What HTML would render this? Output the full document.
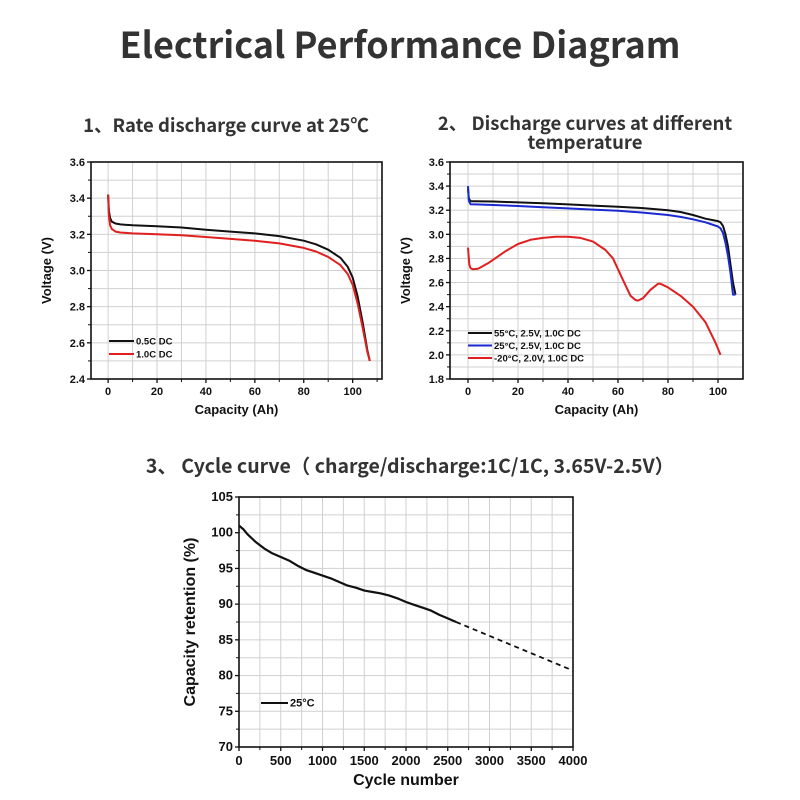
<!DOCTYPE html>
<html><head><meta charset="utf-8">
<style>
html,body{margin:0;padding:0;background:#fff;}
body{width:800px;height:800px;overflow:hidden;position:relative;font-family:"Liberation Sans",Arial,sans-serif;}
.h{position:absolute;font-family:"Noto Sans CJK SC","Liberation Sans",sans-serif;font-weight:bold;color:#333;text-align:center;white-space:nowrap;}
svg{position:absolute;left:0;top:0;}
svg text{font-family:"Liberation Sans",Arial,sans-serif;font-weight:bold;fill:#111;}
</style></head>
<body>
<div class="h" style="left:0;width:800px;top:18px;font-size:36px;line-height:50px;">Electrical Performance Diagram</div>
<div class="h" style="left:76px;width:300px;top:113px;font-size:18.5px;line-height:24px;">1、Rate discharge curve at 25℃</div>
<div class="h" style="left:430px;width:310px;top:114px;font-size:18.5px;line-height:19px;">2、 Discharge curves at different<br>temperature</div>
<div class="h" style="left:110px;width:600px;top:452px;font-size:19.5px;line-height:26px;">3、 Cycle curve（ charge/discharge:1C/1C, 3.65V-2.5V）</div>
<svg id="s" width="800" height="800"></svg>
<script>
// ---- Chart 1 data ----
const c1Cap = [0,0.3,0.8,1.5,3,5,10,20,30,40,50,60,70,80,85,90,95,98,100,102,104,105,106,107];
const c1V05 = [3.42,3.33,3.29,3.27,3.26,3.255,3.25,3.245,3.238,3.225,3.215,3.205,3.19,3.165,3.145,3.115,3.07,3.02,2.96,2.86,2.72,2.64,2.56,2.5];
const c1V10 = [3.42,3.30,3.25,3.23,3.215,3.21,3.205,3.2,3.195,3.185,3.175,3.165,3.15,3.125,3.105,3.075,3.03,2.98,2.92,2.82,2.69,2.62,2.55,2.5];
// ---- Chart 2 data ----
const c2CapA = [0,0.3,1,3,10,20,30,40,50,60,70,80,85,90,95,100,101,102,103,104,105,106,107];
const c2V55 = [3.38,3.3,3.275,3.275,3.272,3.265,3.258,3.248,3.238,3.228,3.218,3.2,3.185,3.16,3.13,3.11,3.1,3.07,3.0,2.9,2.75,2.6,2.5];
const c2V25 = [3.4,3.28,3.25,3.248,3.243,3.235,3.225,3.215,3.205,3.195,3.18,3.16,3.145,3.125,3.1,3.065,3.05,3.01,2.93,2.82,2.68,2.5,2.5];
const c2CapB = [0,0.5,1,2,4,8,15,20,25,30,35,40,45,50,55,58,62,65,67,68,70,73,76,77,80,85,90,95,99,101];
const c2Vm20 = [2.89,2.75,2.72,2.71,2.715,2.76,2.86,2.92,2.955,2.97,2.98,2.98,2.97,2.94,2.87,2.8,2.62,2.49,2.455,2.45,2.47,2.54,2.59,2.59,2.56,2.49,2.4,2.27,2.1,2.0];
// ---- Chart 3 data ----
const c3Cyc = [0,50,100,200,300,400,500,600,700,800,900,1000,1100,1200,1300,1400,1500,1600,1700,1800,1900,2000,2100,2200,2300,2400,2500,2600];
const c3Ret = [101,100.5,99.8,98.7,97.8,97.1,96.6,96.1,95.4,94.8,94.4,94.0,93.6,93.1,92.6,92.3,91.9,91.7,91.5,91.2,90.8,90.3,89.9,89.5,89.1,88.5,88.0,87.5];
const c3ExtCyc = [2600,4000];
const c3ExtRet = [87.5,80.7];

const S = document.getElementById('s');
const NS='http://www.w3.org/2000/svg';
function el(t,a,p){const e=document.createElementNS(NS,t);for(const k in a)e.setAttribute(k,a[k]);(p||S).appendChild(e);return e;}
function txt(x,y,s,sz,anchor,p){const e=el('text',{x:x,y:y,'font-size':sz,'text-anchor':anchor||'middle'},p);e.textContent=s;return e;}

function chart(o){
  const g=el('g',{});
  
  
  const sx=v=>o.L+(v-o.x0)/(o.x1-o.x0)*(o.R-o.L);
  const sy=v=>o.B-(v-o.y0)/(o.y1-o.y0)*(o.B-o.T);
  for(let v=o.x0g;v<=o.x1+1e-9;v+=o.gx){const x=sx(v);if(x>o.L+1&&x<o.R-1)el('line',{x1:x,x2:x,y1:o.T,y2:o.B,stroke:'#d0d0d0','stroke-width':1},g);}
  for(let v=o.y0;v<=o.y1+1e-9;v+=o.gy){const y=sy(v);if(y>o.T+1&&y<o.B-1)el('line',{x1:o.L,x2:o.R,y1:y,y2:y,stroke:'#d0d0d0','stroke-width':1},g);}
  o.xt.forEach(v=>{const x=sx(v);el('line',{x1:x,x2:x,y1:o.B,y2:o.B+4,stroke:'#111','stroke-width':1.3},g);const t=txt(x,o.B+o.fs+5,o.xf(v),o.fs,'middle',g);});
  o.yt.forEach(v=>{const y=sy(v);el('line',{x1:o.L-4,x2:o.L,y1:y,y2:y,stroke:'#111','stroke-width':1.3},g);const t=txt(o.L-6,y+4,o.yf(v),o.fs,'end',g);});
  o.ym.forEach(v=>{const y=sy(v);el('line',{x1:o.L-3,x2:o.L,y1:y,y2:y,stroke:'#111','stroke-width':1},g);});
  o.xm.forEach(v=>{const x=sx(v);el('line',{x1:x,x2:x,y1:o.B,y2:o.B+3,stroke:'#111','stroke-width':1},g);});
  el('rect',{x:o.L,y:o.T,width:o.R-o.L,height:o.B-o.T,fill:'none',stroke:'#111','stroke-width':1.6},g);
  const xl=txt((o.L+o.R)/2,o.B+o.xlo,o.xl,o.lfs,'middle',g);
  const yx=o.L-o.ylo, yy=(o.T+o.B)/2;
  const yl=txt(yx,yy,o.yl,o.lfs,'middle',g);yl.setAttribute('transform','rotate(-90 '+yx+' '+yy+')');
  
  o.series.forEach(s=>{
    const d=s.x.map((v,i)=>(i?'L':'M')+sx(v).toFixed(1)+','+sy(s.y[i]).toFixed(1)).join('');
    const p=el('path',{d:d,fill:'none',stroke:s.c,'stroke-width':s.w||2,'stroke-dasharray':s.dash||'none','stroke-linejoin':'round'},g);
    
  });
  o.legend.forEach((l,i)=>{
    const y=o.lgy+i*o.lgd;
    el('line',{x1:o.lgx,x2:o.lgx+o.lgw,y1:y,y2:y,stroke:l.c,'stroke-width':2},g);
    const t=txt(o.lgx+o.lgw+2,y+3.5,l.t,o.lgfs,'start',g);
    
  });
}
const r=(a,b,s)=>{const o=[];for(let v=a;v<=b+1e-9;v+=s)o.push(+v.toFixed(3));return o;};

chart({name:'chart1-rate-discharge',L:91,R:382,T:162,B:379,x0:-7,x1:112,y0:2.4,y1:3.6,x0g:0,gx:10,gy:0.1,
  xt:[0,20,40,60,80,100],xm:[10,30,50,70,90,110],yt:r(2.4,3.6,0.2),ym:r(2.5,3.5,0.2),
  xf:v=>v,yf:v=>v.toFixed(1),fs:11,lfs:13,xl:'Capacity (Ah)',xlo:35,yl:'Voltage (V)',ylo:40,
  series:[{x:c1Cap,y:c1V05,c:'#111',n:'series-0.5c'},{x:c1Cap,y:c1V10,c:'#e02020',n:'series-1.0c'}],
  legend:[{t:'0.5C DC',c:'#111'},{t:'1.0C DC',c:'#e02020'}],lgx:109,lgy:341,lgd:13,lgw:25,lgfs:9.5});

chart({name:'chart2-temperature-discharge',L:450,R:743,T:162,B:379,x0:-7.2,x1:110,y0:1.8,y1:3.6,x0g:0,gx:10,gy:0.1,
  xt:[0,20,40,60,80,100],xm:[10,30,50,70,90],yt:r(1.8,3.6,0.2),ym:r(1.9,3.5,0.2),
  xf:v=>v,yf:v=>v.toFixed(1),fs:11,lfs:13,xl:'Capacity (Ah)',xlo:35,yl:'Voltage (V)',ylo:40,
  series:[{x:c2CapA,y:c2V55,c:'#111',n:'series-55c'},{x:c2CapA,y:c2V25,c:'#1a2ad0',n:'series-25c'},{x:c2CapB,y:c2Vm20,c:'#e02020',n:'series-minus20c'}],
  legend:[{t:'55°C, 2.5V, 1.0C DC',c:'#111'},{t:'25°C, 2.5V, 1.0C DC',c:'#1a2ad0'},{t:'-20°C, 2.0V, 1.0C DC',c:'#e02020'}],lgx:468,lgy:333,lgd:12.5,lgw:24,lgfs:9.5});

chart({name:'chart3-cycle-curve',L:239,R:573,T:497,B:747,x0:0,x1:4000,y0:70,y1:105,x0g:0,gx:250,gy:2.5,
  xt:r(0,4000,500),xm:r(250,3750,500),yt:r(70,105,5),ym:r(72.5,102.5,5),
  xf:v=>v,yf:v=>v,fs:13,lfs:16,xl:'Cycle number',xlo:38,yl:'Capacity retention (%)',ylo:44,
  series:[{x:c3Cyc,y:c3Ret,c:'#111',w:2.2,n:'series-25c-measured'},{x:c3ExtCyc,y:c3ExtRet,c:'#111',w:1.8,dash:'5,4',n:'series-25c-projection'}],
  legend:[{t:'25°C',c:'#111'}],lgx:261,lgy:703,lgd:12,lgw:27,lgfs:11});
</script>
</body></html>
